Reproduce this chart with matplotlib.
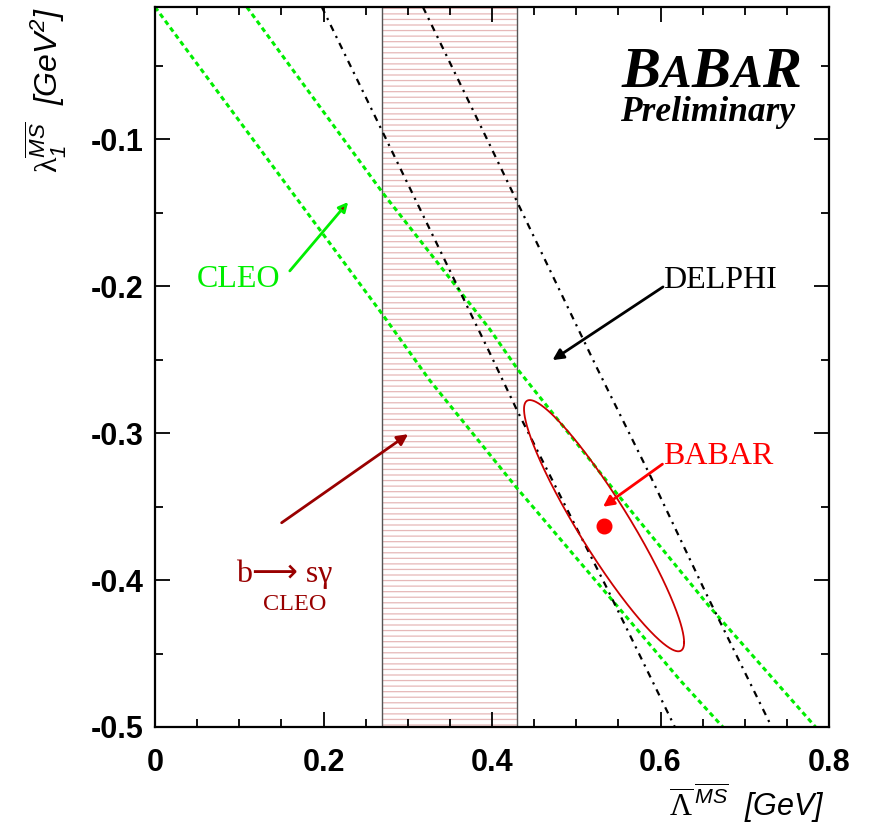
import matplotlib
matplotlib.use("Agg")
import numpy as np
import matplotlib.pyplot as plt

# --- gegevens ---
# CLEO-band uit momenten (groen gestreept), onder- en bovengrens
cleo_onder_x = [0.000, 0.271, 0.326, 0.429, 0.555, 0.623, 0.674]
cleo_onder_y = [-0.010, -0.220, -0.264, -0.337, -0.422, -0.468, -0.500]
cleo_boven_x = [0.109, 0.271, 0.397, 0.431, 0.548, 0.658, 0.784]
cleo_boven_y = [-0.010, -0.137, -0.229, -0.257, -0.341, -0.418, -0.500]

# DELPHI-band (zwart streep-punt)
delphi_links_x = [0.198, 0.271, 0.397, 0.431, 0.536, 0.617]
delphi_links_y = [-0.010, -0.096, -0.245, -0.286, -0.405, -0.500]
delphi_rechts_x = [0.318, 0.395, 0.431, 0.524, 0.587, 0.654, 0.732]
delphi_rechts_y = [-0.010, -0.101, -0.144, -0.255, -0.328, -0.409, -0.500]

# b -> s gamma (CLEO): toegestaan gebied in Lambda-bar
bsg_band = [0.27, 0.43]

# BABAR-meting met fout-ellips
babar_lambda = 0.533
babar_lambda1 = -0.363
babar_sigma_x = 0.095
babar_sigma_y = 0.0855
babar_rho = -0.928

x_ticks = [0, 0.2, 0.4, 0.6, 0.8]
x_ticklabels = ["0", "0.2", "0.4", "0.6", "0.8"]
y_ticks = [-0.5, -0.4, -0.3, -0.2, -0.1]
y_ticklabels = ["-0.5", "-0.4", "-0.3", "-0.2", "-0.1"]

# --- opmaak ---
plt.rcParams["mathtext.fontset"] = "custom"
plt.rcParams["mathtext.rm"] = "Liberation Sans:italic"
plt.rcParams["mathtext.it"] = "Liberation Sans:italic"
plt.rcParams["mathtext.sf"] = "Liberation Serif"
plt.rcParams["mathtext.bf"] = "Liberation Sans:bold"
plt.rcParams["hatch.linewidth"] = 0.9

SERIF = ["Liberation Serif", "DejaVu Sans"]
ROOD = "#ff0000"
DONKERROOD = "#990000"
GROEN = "#00ee00"

fig = plt.figure(figsize=(8.73, 8.25), dpi=100)
ax = fig.add_axes([155 / 873, 98 / 825, 674 / 873, 720 / 825])

# b->s gamma band met horizontale arcering
ax.axvspan(bsg_band[0], bsg_band[1], facecolor="white", edgecolor="#e6b8b8",
           hatch="---", lw=0, zorder=0.5)
for xb in bsg_band:
    ax.axvline(xb, color="#555555", lw=1.0, zorder=1)

# CLEO lijnen
stijl_groen = dict(color=GROEN, lw=2.2, linestyle=(0, (1.6, 1.2)), zorder=2)
ax.plot(cleo_onder_x, cleo_onder_y, **stijl_groen)
ax.plot(cleo_boven_x, cleo_boven_y, **stijl_groen)

# DELPHI lijnen
stijl_zwart = dict(color="black", lw=1.6, linestyle=(0, (3, 2.5, 1, 2.5)), zorder=2)
ax.plot(delphi_links_x, delphi_links_y, **stijl_zwart)
ax.plot(delphi_rechts_x, delphi_rechts_y, **stijl_zwart)

# BABAR ellips en centrale waarde
t = np.linspace(0, 2 * np.pi, 400)
ex = babar_lambda + babar_sigma_x * np.cos(t)
ey = babar_lambda1 + babar_sigma_y * (babar_rho * np.cos(t)
                                      + np.sqrt(1 - babar_rho ** 2) * np.sin(t))
ax.plot(ex, ey, color="#cc0000", lw=1.3, zorder=3)
ax.plot([babar_lambda], [babar_lambda1], "o", color=ROOD, ms=10.5, zorder=4)

# labels met pijlen
ax.text(0.049, -0.2005, "CLEO", color=GROEN, fontsize=23, family=SERIF,
        ha="left", va="baseline")
ax.annotate("", xy=(0.2293, -0.1427), xytext=(0.160, -0.1896),
            arrowprops=dict(arrowstyle="-|>", color=GROEN, fc=DONKERROOD, lw=2,
                            mutation_scale=14, shrinkA=0, shrinkB=0))

ax.text(0.603, -0.2009, "DELPHI", color="black", fontsize=23, family=SERIF,
        ha="left", va="baseline")
ax.annotate("", xy=(0.4718, -0.2503), xytext=(0.603, -0.2005),
            arrowprops=dict(arrowstyle="-|>", color="black", lw=2,
                            mutation_scale=16, shrinkA=0, shrinkB=0))

ax.text(0.603, -0.3211, "BABAR", color=ROOD, fontsize=23, family=SERIF,
        ha="left", va="baseline")
ax.annotate("", xy=(0.5318, -0.3501), xytext=(0.6023, -0.3211),
            arrowprops=dict(arrowstyle="-|>", color=ROOD, lw=2,
                            mutation_scale=16, shrinkA=0, shrinkB=0))

ax.text(0.153, -0.4014, "b\u27f6 s\u03b3", color=DONKERROOD, fontsize=23,
        family=SERIF, ha="center", va="baseline")
ax.text(0.166, -0.4204, "CLEO", color=DONKERROOD, fontsize=17.5,
        family=SERIF, ha="center", va="baseline")
ax.annotate("", xy=(0.3005, -0.3007), xytext=(0.1503, -0.361),
            arrowprops=dict(arrowstyle="-|>", color=DONKERROOD, lw=2,
                            mutation_scale=16, shrinkA=0, shrinkB=0))

# BABAR logo, letters aan elkaar geschakeld
logo = [("B", 42, 0), ("A", 33, 0.3), ("B", 42, 0.3), ("A", 33, 0.3), ("R", 42, 0.3)]
y_logo = -0.0646
vorige = ax.text(0.5536, y_logo, logo[0][0], fontsize=logo[0][1], family=SERIF,
                 weight="bold", style="italic", ha="left", va="baseline", zorder=5)
for letter, grootte, kern in logo[1:]:
    vorige = ax.annotate(letter, xy=(1, y_logo), xycoords=(vorige, "data"),
                         xytext=(kern, 0), textcoords="offset points",
                         fontsize=grootte, family=SERIF, weight="bold",
                         style="italic", ha="left", va="baseline", zorder=5)
ax.text(0.5516, -0.0875, "Preliminary", fontsize=25.5, family=SERIF,
        weight="bold", style="italic", ha="left", va="baseline")

# assen
ax.set_xlim(0, 0.8)
ax.set_ylim(-0.5, -0.01)
ax.set_xticks(x_ticks)
ax.set_xticklabels(x_ticklabels)
ax.set_yticks(y_ticks)
ax.set_yticklabels(y_ticklabels)
ax.set_xticks(np.arange(0, 0.81, 0.05), minor=True)
ax.set_yticks(np.arange(-0.5, -0.01, 0.05), minor=True)
ax.tick_params(which="both", direction="in", top=True, right=True, width=1.3)
ax.tick_params(which="major", length=10.5)
ax.tick_params(which="minor", length=5.5)
ax.tick_params(axis="y", pad=8)
ax.tick_params(axis="x", pad=15)
for lab in ax.get_xticklabels() + ax.get_yticklabels():
    lab.set_fontfamily("Liberation Sans")
    lab.set_fontweight("bold")
    lab.set_fontsize(22)
for sp in ax.spines.values():
    sp.set_linewidth(1.6)

ax.set_xlabel(r"$\overline{\mathsf{\Lambda}}^{\,\overline{MS}}$  [GeV]",
              fontsize=22, fontfamily="Liberation Sans", fontstyle="italic",
              ha="right", va="top")
ax.xaxis.set_label_coords(0.994, -0.075)
ax.set_ylabel(r"$\mathsf{\lambda}_{1}^{\overline{MS}}$  [GeV$^{2}$]",
              fontsize=23, fontfamily="Liberation Sans", fontstyle="italic",
              ha="right", va="bottom")
ax.yaxis.set_label_coords(-0.127, 1.0)

fig.savefig("out.png", dpi=100)
